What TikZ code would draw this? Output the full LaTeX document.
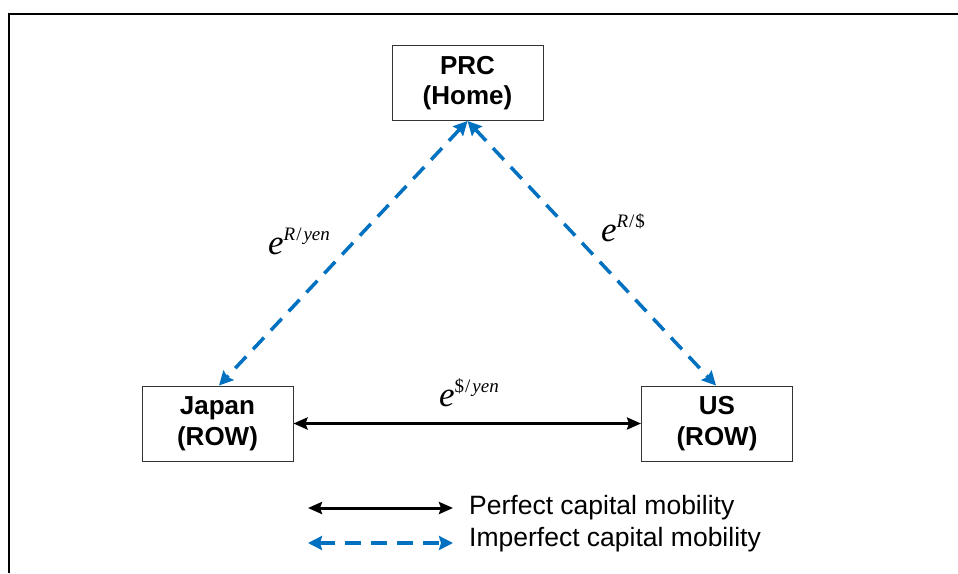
\documentclass[tikz,border=0pt]{standalone}
\usepackage{fontspec}
\setmainfont{Liberation Sans}
\newfontfamily\tms{Liberation Serif}
\usetikzlibrary{arrows.meta}
\definecolor{dblue}{RGB}{0,112,192}
\newcommand{\supsz}{\fontsize{19}{19}\selectfont}
\begin{document}
\begin{tikzpicture}[x=1pt,y=-1pt,
  box/.style={draw=black!80, line width=1pt, minimum width=151pt, minimum height=75pt,
    align=center, inner sep=0pt, font=\fontsize{26}{30.5}\selectfont\bfseries},
  perf/.style={draw=black, line width=3pt,
    {Stealth[length=14pt,width=12pt,inset=2pt]}-{Stealth[length=14pt,width=12pt,inset=2pt]}},
  imp/.style={draw=dblue, line width=3.5pt, dash pattern=on 16pt off 10pt,
    {Stealth[length=14pt,width=14pt,inset=2pt]}-{Stealth[length=14pt,width=14pt,inset=2pt]}},
  lbl/.style={inner sep=0pt, font=\tms\fontsize{35}{35}\selectfont},
  legtxt/.style={anchor=west, inner sep=0pt, font=\fontsize{26.5}{30}\selectfont}]
\useasboundingbox (0,0) rectangle (958,573);
\draw[line width=2.5pt] (9,573) -- (9,14) -- (958,14);

\node[box] (prc) at (467.5,83) {PRC\\(Home)};
\node[box] (jp) at (217.5,423.5) {Japan\\(ROW)};
\node[box] (us) at (717,423.5) {US\\(ROW)};

\draw[imp] (prc.south) -- ([xshift=1.5pt]jp.north);
\draw[imp] (prc.south) -- ([xshift=-1pt]us.north);
\draw[perf] (jp.east) -- (us.west);

\node[lbl] (l1) at (299,241) {\textit{e}\raisebox{14pt}{\supsz\textit{R}\kern1pt/\kern2pt\textit{yen}}};
\node[lbl] (l2) at (623,228) {\textit{e}\raisebox{14pt}{\supsz\textit{R}\kern1pt/\kern1pt\$}};
\node[lbl] (l3) at (469,393) {\textit{e}\raisebox{14pt}{\supsz\$\kern1pt/\kern2pt\textit{yen}}};

\coordinate (a1) at (308,508);
\coordinate (a2) at (453,508);
\coordinate (b1) at (308,543);
\coordinate (b2) at (453,543);
\draw[perf] (a1) -- (a2);
\draw[imp] (b1) -- (b2);
\node[legtxt] (t1) at (469,508) {Perfect capital mobility};
\node[legtxt] (t2) at (469,540) {Imperfect capital mobility};
\end{tikzpicture}
\end{document}
